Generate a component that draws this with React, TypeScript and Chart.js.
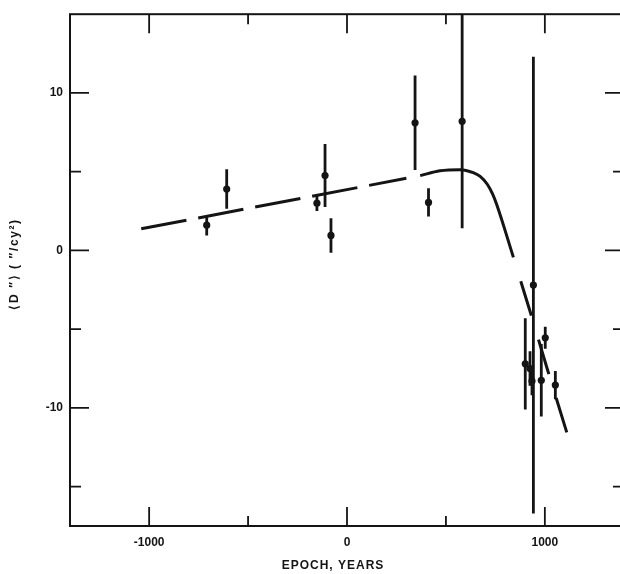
import React, { useEffect, useRef } from "react";
import { Chart, registerables } from "chart.js";
Chart.register(...registerables);

// fitted curve (three pieces: dashed, solid, dashed)
const curveDashedX = [-1040, 300];
const curveDashedY = [1.375, 4.58];
const curveSolidX = [370, 470, 572, 638, 673, 709, 735, 757, 841];
const curveSolidY = [4.75, 5.06, 5.13, 4.94, 4.7, 4.2, 3.6, 2.9, -0.44];
const curveTailX = [841, 927, 1013, 1114];
const curveTailY = [-0.44, -3.94, -7.56, -11.69];

// observations with symmetric error bars
const pointX = [-709, -608, -152, -111, -81, 344, 412, 582, 901, 925, 935, 942, 982, 1002, 1053];
const pointY = [1.6, 3.9, 3.0, 4.75, 0.95, 8.1, 3.05, 8.2, -7.2, -7.5, -8.3, -2.2, -8.25, -5.55, -8.55];
const pointErr = [0.65, 1.25, 0.5, 2.0, 1.1, 3.0, 0.9, 6.8, 2.9, 1.1, 0.9, 14.5, 2.3, 0.7, 0.9];

// axes
const xMin = -1400;
const xMax = 1400;
const yMin = -17.5;
const yMax = 15;
const xTickValues = [-1000, -500, 0, 500, 1000];
const xTickLabels = ["-1000", "", "0", "", "1000"];
const xMajor = [true, false, true, false, true];
const yTickValues = [-15, -10, -5, 0, 5, 10];
const yTickLabels = ["", "-10", "", "0", "", "10"];
const yMajor = [false, true, false, true, false, true];

const xTitle = "EPOCH, YEARS";
const yTitle = "\u27E8D \u2033\u27E9 ( \u2033/cy\u00B2)";

const INK = "#141414";
const FONT = "'Liberation Sans', Arial, sans-serif";

const toXY = (xs: number[], ys: number[]) => xs.map((x, i) => ({ x, y: ys[i] }));

const decorPlugin = {
  id: "decor",
  beforeDatasetsDraw(chart: any) {
    const { ctx, chartArea: a, scales } = chart;
    const xs = scales.x;
    const ys = scales.y;
    ctx.save();
    ctx.beginPath();
    ctx.rect(a.left, a.top, a.right - a.left, a.bottom - a.top);
    ctx.clip();
    ctx.strokeStyle = INK;
    ctx.lineWidth = 2.8;
    ctx.lineCap = "butt";
    pointX.forEach((x, i) => {
      const px = xs.getPixelForValue(x);
      const y1 = ys.getPixelForValue(pointY[i] + pointErr[i]);
      const y2 = ys.getPixelForValue(pointY[i] - pointErr[i]);
      ctx.beginPath();
      ctx.moveTo(px, y1);
      ctx.lineTo(px, y2);
      ctx.stroke();
    });
    ctx.restore();
  },
  afterDraw(chart: any) {
    const { ctx, chartArea: a, scales } = chart;
    const xs = scales.x;
    const ys = scales.y;
    ctx.save();
    ctx.strokeStyle = INK;
    ctx.lineWidth = 2;
    ctx.strokeRect(a.left, a.top, a.right - a.left, a.bottom - a.top);
    ctx.lineWidth = 1.8;
    xTickValues.forEach((v, i) => {
      const px = xs.getPixelForValue(v);
      const len = xMajor[i] ? 19 : 10;
      ctx.beginPath();
      ctx.moveTo(px, a.top);
      ctx.lineTo(px, a.top + len);
      ctx.moveTo(px, a.bottom);
      ctx.lineTo(px, a.bottom - len);
      ctx.stroke();
    });
    yTickValues.forEach((v, i) => {
      const py = ys.getPixelForValue(v);
      const len = yMajor[i] ? 19 : 11;
      ctx.beginPath();
      ctx.moveTo(a.left, py);
      ctx.lineTo(a.left + len, py);
      ctx.moveTo(a.right, py);
      ctx.lineTo(a.right - len, py);
      ctx.stroke();
    });
    // axis titles
    ctx.fillStyle = INK;
    ctx.font = `bold 12px ${FONT}`;
    ctx.textAlign = "center";
    ctx.textBaseline = "middle";
    try { (ctx as any).letterSpacing = "1px"; } catch (e) {}
    ctx.fillText(xTitle, 333, 566);
    try { (ctx as any).letterSpacing = "1.6px"; } catch (e) {}
    ctx.translate(15, 264);
    ctx.rotate(-Math.PI / 2);
    ctx.font = `bold 12px ${FONT}`;
    ctx.fillText(yTitle, 0, 0);
    ctx.restore();
  },
};

export default function App() {
  const ref = useRef<HTMLCanvasElement | null>(null);
  useEffect(() => {
    document.body.style.margin = "0";
    document.body.style.overflow = "hidden";
    const canvas = ref.current!;
    const chart = new Chart(canvas, {
      type: "scatter",
      data: {
        datasets: [
          {
            type: "line",
            data: toXY(curveDashedX, curveDashedY),
            borderColor: INK,
            borderWidth: 3,
            borderDash: [46, 12],
            pointRadius: 0,
            fill: false,
          } as any,
          {
            type: "line",
            data: toXY(curveSolidX, curveSolidY),
            borderColor: INK,
            borderWidth: 3,
            cubicInterpolationMode: "monotone",
            pointRadius: 0,
            fill: false,
          } as any,
          {
            type: "line",
            data: toXY(curveTailX, curveTailY),
            borderColor: INK,
            borderWidth: 3,
            borderDash: [36, 25],
            borderDashOffset: 36,
            pointRadius: 0,
            fill: false,
          } as any,
          {
            type: "scatter",
            data: toXY(pointX, pointY),
            backgroundColor: INK,
            borderColor: INK,
            borderWidth: 0,
            pointRadius: 3.6,
          } as any,
        ],
      },
      options: {
        responsive: false,
        animation: false,
        layout: { padding: { top: 7, right: 16, left: 0, bottom: 0 } },
        plugins: { legend: { display: false }, tooltip: { enabled: false } },
        scales: {
          x: {
            type: "linear",
            min: xMin,
            max: xMax,
            border: { display: false },
            grid: { display: false, drawTicks: false },
            afterBuildTicks: (s: any) => {
              s.ticks = xTickValues.map((v) => ({ value: v }));
            },
            afterFit: (s: any) => {
              s.height = 48;
            },
            ticks: {
              padding: 9,
              autoSkip: false,
              maxRotation: 0,
              color: INK,
              font: { family: FONT, size: 12, weight: "bold" },
              callback: (v: any) => {
                const i = xTickValues.indexOf(Number(v));
                return i >= 0 ? xTickLabels[i] : "";
              },
            },
          },
          y: {
            type: "linear",
            min: yMin,
            max: yMax,
            border: { display: false },
            grid: { display: false, drawTicks: false },
            afterBuildTicks: (s: any) => {
              s.ticks = yTickValues.map((v) => ({ value: v }));
            },
            afterFit: (s: any) => {
              s.width = 70;
            },
            ticks: {
              padding: 7,
              autoSkip: false,
              color: INK,
              font: { family: FONT, size: 12, weight: "bold" },
              callback: (v: any) => {
                const i = yTickValues.indexOf(Number(v));
                return i >= 0 ? yTickLabels[i] : "";
              },
            },
          },
        },
      } as any,
      plugins: [decorPlugin],
    });
    return () => chart.destroy();
  }, []);
  return (
    <div style={{ width: 620, height: 574, overflow: "hidden", background: "#fff" }}>
      <canvas ref={ref} width={640} height={574} style={{ display: "block", width: 640, height: 574 }} />
    </div>
  );
}
